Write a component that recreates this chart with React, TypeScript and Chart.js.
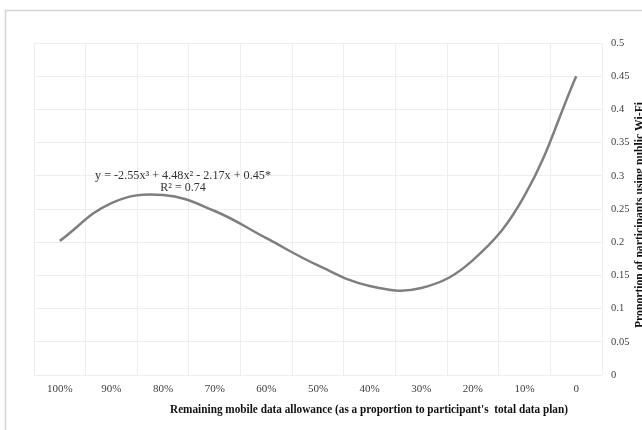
import React, { useEffect, useRef } from "react";
import { Chart, registerables } from "chart.js";

Chart.register(...registerables);

// ---- data ----
const categories = ["100%", "90%", "80%", "70%", "60%", "50%", "40%", "30%", "20%", "10%", "0"];
const proportionUsingWifi = [0.202, 0.259, 0.271, 0.247, 0.206, 0.165, 0.134, 0.131, 0.173, 0.27, 0.45];
const yTickLabels = ["0", "0.05", "0.1", "0.15", "0.2", "0.25", "0.3", "0.35", "0.4", "0.45", "0.5"];
const equationLine = "y = -2.55x\u00B3 + 4.48x\u00B2 - 2.17x + 0.45*";
const r2Line = "R\u00B2 = 0.74";
const xTitle = "Remaining mobile data allowance (as a proportion to participant's  total data plan)";
const yTitle = "Proportion of participants using public Wi-Fi";

const SERIF = "'Liberation Serif', 'Times New Roman', serif";

const decorPlugin = {
  id: "decor",
  beforeDraw(chart: any) {
    const ctx = chart.ctx;
    ctx.save();
    ctx.fillStyle = "#ffffff";
    ctx.fillRect(0, 0, chart.width, chart.height);
    ctx.strokeStyle = "#d4d4d4";
    ctx.lineWidth = 1.5;
    ctx.beginPath();
    ctx.moveTo(5.5, chart.height);
    ctx.lineTo(5.5, 10.5);
    ctx.lineTo(chart.width, 10.5);
    ctx.stroke();
    ctx.restore();
  },
  afterDraw(chart: any) {
    const ctx = chart.ctx;
    ctx.save();
    // equation annotation
    ctx.fillStyle = "#333333";
    ctx.font = `12px ${SERIF}`;
    ctx.textAlign = "center";
    ctx.textBaseline = "middle";
    const we = ctx.measureText(equationLine).width;
    ctx.save();
    ctx.translate(183, 175.5);
    ctx.scale(176 / we, 1);
    ctx.fillText(equationLine, 0, 0);
    ctx.restore();
    ctx.fillText(r2Line, 183, 188);

    // x axis title (bold, slightly condensed)
    ctx.fillStyle = "#111111";
    ctx.font = `bold 12.5px ${SERIF}`;
    const w = ctx.measureText(xTitle).width;
    ctx.save();
    ctx.translate(369, 410);
    ctx.scale(398 / w, 1);
    ctx.textAlign = "center";
    ctx.textBaseline = "middle";
    ctx.fillText(xTitle, 0, 0);
    ctx.restore();

    // y axis title (rotated, cut at the right edge)
    ctx.font = `bold 12.5px ${SERIF}`;
    const wy = ctx.measureText(yTitle).width;
    ctx.save();
    ctx.translate(643, 215);
    ctx.rotate(-Math.PI / 2);
    ctx.scale(226 / wy, 1);
    ctx.textAlign = "center";
    ctx.textBaseline = "alphabetic";
    ctx.fillText(yTitle, 0, 0);
    ctx.restore();

    ctx.restore();
  },
};

export default function App() {
  const ref = useRef<HTMLCanvasElement | null>(null);

  useEffect(() => {
    if (!ref.current) return;
    const chart = new Chart(ref.current, {
      type: "line",
      data: {
        labels: categories,
        datasets: [
          {
            data: proportionUsingWifi,
            borderColor: "#7f7f7f",
            borderWidth: 2.5,
            pointRadius: 0,
            fill: false,
            tension: 0.4,
          },
        ],
      },
      options: {
        animation: false,
        responsive: false,
        devicePixelRatio: 1,
        layout: { padding: { left: 34, top: 43, right: 0, bottom: 0 } },
        plugins: {
          legend: { display: false },
          tooltip: { enabled: false },
        },
        scales: {
          x: {
            type: "category",
            offset: true,
            grid: { color: "#eeeeee", drawTicks: false, offset: true, lineWidth: 1 },
            border: { display: false },
            ticks: {
              padding: 8,
              color: "#404040",
              font: { family: SERIF, size: 11 },
              maxRotation: 0,
              autoSkip: false,
            },
            afterFit: (s: any) => {
              s.height = 55;
            },
          },
          y: {
            position: "right",
            min: 0,
            max: 0.5,
            grid: { color: "#eeeeee", drawTicks: false, lineWidth: 1 },
            border: { display: false },
            ticks: {
              stepSize: 0.05,
              padding: 9,
              color: "#404040",
              font: { family: SERIF, size: 10.5 },
              callback: (_v: any, i: number) => yTickLabels[i],
            },
            afterFit: (s: any) => {
              s.width = 40;
            },
          },
        },
      },
      plugins: [decorPlugin],
    });
    return () => chart.destroy();
  }, []);

  return (
    <div style={{ position: "fixed", left: 0, top: 0, width: 642, height: 430, background: "#fff" }}>
      <canvas ref={ref} width={642} height={430} style={{ display: "block" }} />
    </div>
  );
}
